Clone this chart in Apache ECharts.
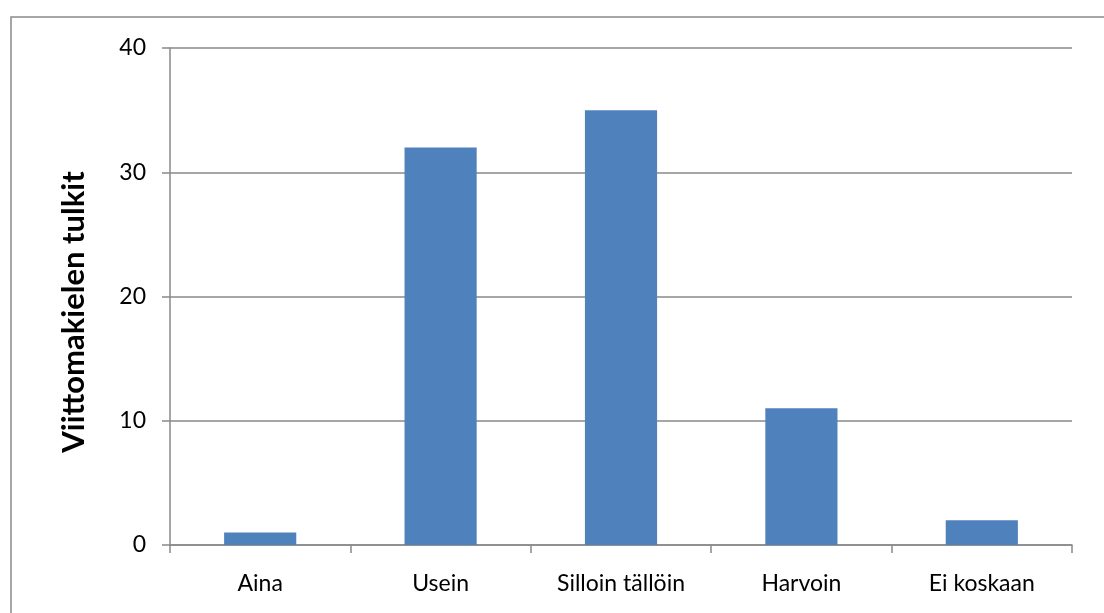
<!DOCTYPE html>
<html>
<head>
<meta charset="utf-8">
<script src="https://cdn.jsdelivr.net/npm/echarts@6/dist/echarts.min.js"></script>
<style>
  html, body { margin: 0; padding: 0; background: #fff; }
  #chart { width: 1104px; height: 613px; }
</style>
</head>
<body>
<div id="chart"></div>
<script>
// data
const categories = ["Aina", "Usein", "Silloin tällöin", "Harvoin", "Ei koskaan"];
const values = [1, 32, 35, 11, 2];
const yTitle = "Viittomakielen tulkit";

const chart = echarts.init(document.getElementById("chart"));
const gray = "#898989";
const font = "Lato, 'Open Sans', sans-serif";

chart.setOption({
  animation: false,
  graphic: [
    {
      // outer chart frame, cut off at right and bottom
      type: "rect",
      shape: { x: 11, y: 17, width: 1200, height: 700 },
      style: { fill: "none", stroke: gray, lineWidth: 1.5 }
    },
    {
      type: "text",
      x: 74,
      y: 312,
      rotation: Math.PI / 2,
      style: {
        text: yTitle,
        fontFamily: font,
        fontWeight: "bold",
        fontSize: 31,
        fill: "#000",
        align: "center",
        verticalAlign: "middle"
      }
    }
  ],
  grid: { left: 170, right: 32, top: 48, bottom: 68 },
  xAxis: {
    type: "category",
    data: categories,
    axisLine: { lineStyle: { color: gray, width: 1.5 } },
    axisTick: { show: true, length: 8, lineStyle: { color: gray, width: 1.5 } },
    axisLabel: { color: "#000", fontFamily: font, fontSize: 23, margin: 27 }
  },
  yAxis: {
    type: "value",
    min: 0,
    max: 40,
    interval: 10,
    axisLine: { show: true, lineStyle: { color: gray, width: 1.5 } },
    axisTick: { show: true, length: 8, lineStyle: { color: gray, width: 1.5 } },
    splitLine: { lineStyle: { color: gray, width: 1.5 } },
    axisLabel: { color: "#000", fontFamily: font, fontSize: 23, margin: 24 }
  },
  series: [
    {
      type: "bar",
      data: values,
      barWidth: "40%",
      itemStyle: { color: "#4F81BD" }
    }
  ]
});
</script>
</body>
</html>
